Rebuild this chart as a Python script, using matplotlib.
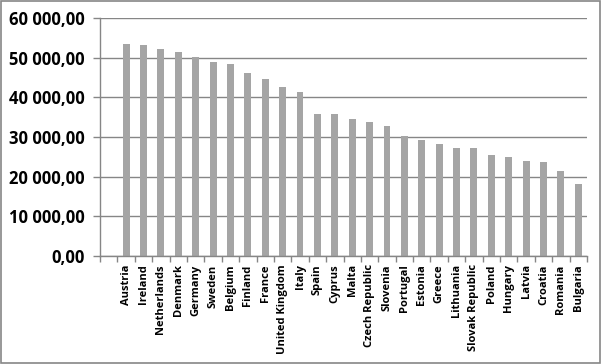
import matplotlib.pyplot as plt
from matplotlib.ticker import FuncFormatter

# Data
countries = ['', 'Austria', 'Ireland', 'Netherlands', 'Denmark', 'Germany', 'Sweden',
             'Belgium', 'Finland', 'France', 'United Kingdom', 'Italy', 'Spain',
             'Cyprus', 'Malta', 'Czech Republic', 'Slovenia', 'Portugal', 'Estonia',
             'Greece', 'Lithuania', 'Slovak Republic', 'Poland', 'Hungary', 'Latvia',
             'Croatia', 'Romania', 'Bulgaria']
values = [0, 53400, 53150, 52150, 51400, 50050, 48900, 48350, 46100, 44600,
          42600, 41300, 35800, 35800, 34500, 33750, 32700, 30250, 29250, 28200,
          27200, 27200, 25450, 24950, 23950, 23700, 21400, 18150]
yticks = [0, 10000, 20000, 30000, 40000, 50000, 60000]

plt.rcParams['font.family'] = ['Open Sans', 'DejaVu Sans']

fig = plt.figure(figsize=(6.02, 3.64), dpi=100)
ax = fig.add_axes([100 / 602, 1 - 256 / 364, 487 / 602, 238 / 364])

x = list(range(len(countries)))
ax.bar(x, values, width=0.4, color='#a5a5a5', zorder=2)

ax.set_xlim(-0.5, len(countries) - 0.5)
ax.set_ylim(0, 60000)
ax.set_yticks(yticks)
ax.yaxis.set_major_formatter(FuncFormatter(
    lambda v, p: f"{v:,.2f}".replace(",", " ").replace(".", ",")))
ax.grid(axis='y', color='#868686', linewidth=1, zorder=0)

ax.set_xticks(x)
ax.set_xticklabels(countries, rotation=90, fontsize=8, fontweight='bold', va='top')
ax.set_xticks([i - 0.5 for i in range(len(countries) + 1)], minor=True)
ax.tick_params(axis='x', which='major', length=0, pad=6)
ax.tick_params(axis='x', which='minor', length=4, color='#868686', width=1)
ax.tick_params(axis='y', length=5, color='#868686', width=1, labelsize=12, pad=6)
for lbl in ax.get_yticklabels():
    lbl.set_fontweight('bold')

for side in ['top', 'right']:
    ax.spines[side].set_visible(False)
for side in ['left', 'bottom']:
    ax.spines[side].set_color('#868686')
    ax.spines[side].set_linewidth(1)

# outer chart border
fig.patches.append(plt.Rectangle((0.002, 0.003), 0.995, 0.994, transform=fig.transFigure,
                                 fill=False, edgecolor='#868686', linewidth=1.2))

fig.savefig('out.png', dpi=100)
